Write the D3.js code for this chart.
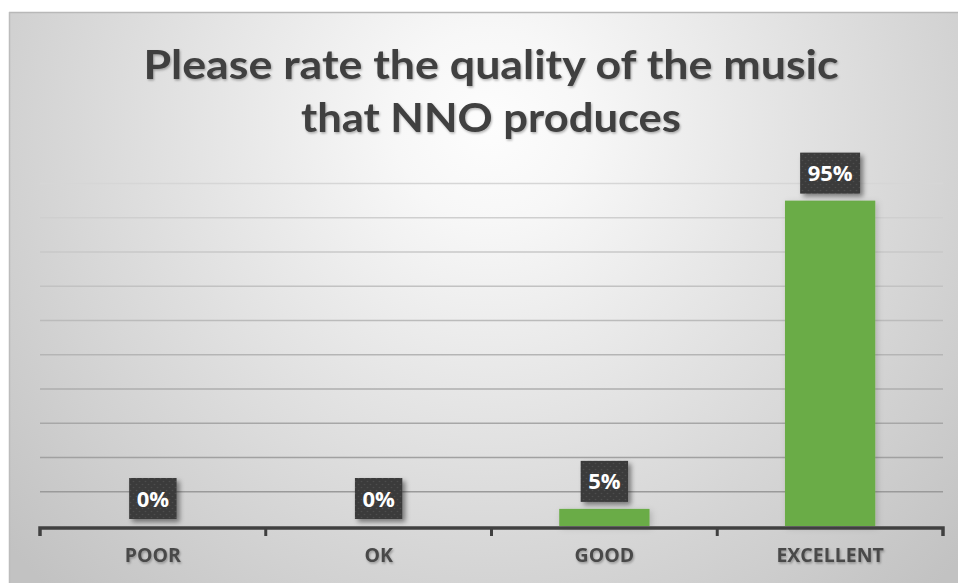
<!DOCTYPE html>
<html>
<head>
<meta charset="utf-8">
<script src="https://cdn.jsdelivr.net/npm/d3@7"></script>
<style>
  html, body { margin: 0; padding: 0; background: #fff; }
  svg { display: block; }
</style>
</head>
<body>
<script>
// Survey answers and their shares
const categories = ["POOR", "OK", "GOOD", "EXCELLENT"];
const shares = [0, 0, 0.05, 0.95];
const gridTicks = [0.1, 0.2, 0.3, 0.4, 0.5, 0.6, 0.7, 0.8, 0.9, 1.0];
const titleLines = ["Please rate the quality of the music", "that NNO produces"];

const W = 958, H = 583;
const svg = d3.select("body").append("svg").attr("width", W).attr("height", H);
const defs = svg.append("defs");

// Radial background of the chart panel
const bg = defs.append("radialGradient").attr("id", "bg")
  .attr("gradientUnits", "userSpaceOnUse")
  .attr("cx", 490).attr("cy", 125).attr("r", 640);
bg.append("stop").attr("offset", 0).attr("stop-color", "#fdfdfd");
bg.append("stop").attr("offset", 0.15).attr("stop-color", "#f7f7f7");
bg.append("stop").attr("offset", 1).attr("stop-color", "#c2c2c2");

// Dotted dark fill for the value callouts
const pat = defs.append("pattern").attr("id", "dots")
  .attr("patternUnits", "userSpaceOnUse").attr("width", 6).attr("height", 6);
pat.append("rect").attr("width", 6).attr("height", 6).attr("fill", "#3a3a3a");
pat.append("circle").attr("cx", 1.5).attr("cy", 1.5).attr("r", 0.8).attr("fill", "#4e4e4e");
pat.append("circle").attr("cx", 4.5).attr("cy", 4.5).attr("r", 0.8).attr("fill", "#4e4e4e");

function shadow(id, dx, dy, sd, op) {
  const f = defs.append("filter").attr("id", id)
    .attr("x", "-30%").attr("y", "-30%").attr("width", "160%").attr("height", "160%");
  f.append("feDropShadow").attr("dx", dx).attr("dy", dy)
    .attr("stdDeviation", sd).attr("flood-color", "#000").attr("flood-opacity", op);
}
shadow("boxShadow", 3, 3, 2.5, 0.45);
shadow("textShadow", 1, 1.5, 1, 0.3);
shadow("barShadow", 2, 2, 3, 0.18);

// Chart panel
svg.append("rect").attr("x", 9).attr("y", 12).attr("width", W - 9).attr("height", H - 12)
  .attr("fill", "url(#bg)");
svg.append("line").attr("x1", 9).attr("x2", W).attr("y1", 12.5).attr("y2", 12.5)
  .attr("stroke", "#b8b8b8").attr("stroke-width", 1.5);
svg.append("line").attr("x1", 9.5).attr("x2", 9.5).attr("y1", 12).attr("y2", H)
  .attr("stroke", "#bcbcbc").attr("stroke-width", 1.5);

// Scales
const x = d3.scaleBand().domain(categories).range([40, 943]).padding(0);
const y = d3.scaleLinear().domain([0, 1]).range([526, 183.5]);
const barW = x.bandwidth() * 0.4;

// Gridlines, lighter toward the top of the panel
const gridColor = d3.scaleLinear().domain([183.5, 492]).range(["#d6d6d6", "#9a9a9a"]);
svg.append("g").selectAll("line").data(gridTicks).join("line")
  .attr("x1", 40).attr("x2", 943)
  .attr("y1", d => y(d)).attr("y2", d => y(d))
  .attr("stroke", d => gridColor(y(d))).attr("stroke-width", 1.5);

// Title
const title = svg.append("g").attr("filter", "url(#textShadow)")
  .attr("font-family", "Lato, 'Open Sans', sans-serif").attr("font-weight", 700)
  .attr("font-size", 41).attr("fill", "#404040").attr("text-anchor", "middle");
title.selectAll("text").data(titleLines).join("text")
  .attr("x", 491).attr("y", (d, i) => 79 + i * 53)
  .attr("textLength", (d, i) => i === 0 ? 695 : 380)
  .attr("lengthAdjust", "spacingAndGlyphs")
  .text(d => d);

// Bars
const data = categories.map((c, i) => ({ cat: c, v: shares[i] }));
svg.append("g").attr("filter", "url(#barShadow)").selectAll("rect")
  .data(data.filter(d => d.v > 0)).join("rect")
  .attr("x", d => x(d.cat) + (x.bandwidth() - barW) / 2)
  .attr("width", barW)
  .attr("y", d => y(d.v))
  .attr("height", d => y(0) - y(d.v))
  .attr("fill", "#6aac46");

// Category axis
const axis = d3.axisBottom(x).tickSize(0).tickPadding(20);
const ax = svg.append("g").attr("transform", "translate(0,528)").call(axis);
ax.select(".domain").remove();
ax.selectAll("text")
  .attr("font-family", "'Open Sans', sans-serif").attr("font-weight", 700)
  .attr("font-size", 19.5).attr("fill", "#4a4a4a").attr("filter", "url(#textShadow)");
const edges = categories.map(c => x(c)).concat([x.range()[1]]);
ax.append("path")
  .attr("d", "M" + edges[0] + ",8V0H" + edges[edges.length - 1] + "V8")
  .attr("fill", "none").attr("stroke", "#404040").attr("stroke-width", 3.5);
ax.selectAll("line.edge").data(edges.slice(1, -1)).join("line").attr("class", "edge")
  .attr("x1", d => d).attr("x2", d => d).attr("y1", 0).attr("y2", 8)
  .attr("stroke", "#404040").attr("stroke-width", 3);

// Value callouts
const fmt = d3.format(".0%");
const labels = svg.append("g").selectAll("g").data(data).join("g");
labels.each(function (d) {
  const g = d3.select(this);
  const cx = x(d.cat) + x.bandwidth() / 2;
  const t = g.append("text")
    .attr("font-family", "'Open Sans', sans-serif").attr("font-weight", 700)
    .attr("font-size", 22).attr("fill", "#fff").attr("text-anchor", "middle")
    .text(fmt(d.v));
  const tw = t.node().getComputedTextLength();
  const bw = tw + 15, bh = 41;
  const by = y(d.v) - 7 - bh;
  g.insert("rect", "text")
    .attr("x", cx - bw / 2).attr("y", by).attr("width", bw).attr("height", bh)
    .attr("fill", "url(#dots)").attr("filter", "url(#boxShadow)");
  t.attr("x", cx).attr("y", by + bh / 2 + 8);
});
</script>
</body>
</html>
